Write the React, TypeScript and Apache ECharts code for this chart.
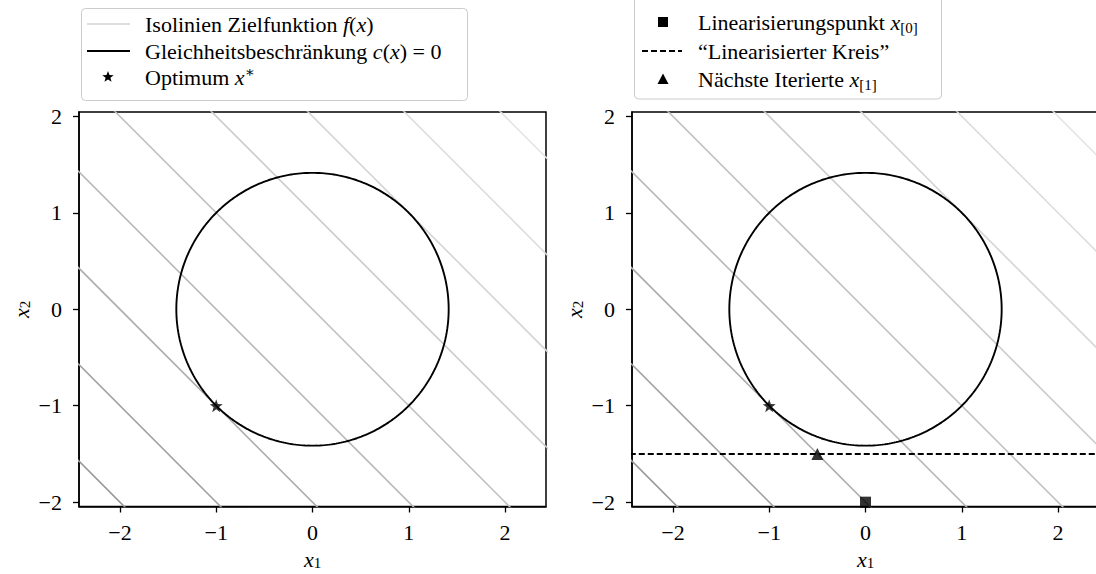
import React, { useEffect, useRef } from "react";
import * as echarts from "echarts";

// ---- data ----
const levels = [-4, -3, -2, -1, 0, 1, 2, 3, 4];
const levelColors = ["#979797", "#a2a2a2", "#adadad", "#b7b7b7", "#c1c1c1", "#cbcbcb", "#d4d4d4", "#dcdcdc", "#e4e4e4"];
const circleCenter = [0, 0];
const circleRadius = Math.SQRT2;
const optimum = [[-1, -1]];
const linearizationPoint = [[0, -2]];
const linearizedCircleX2 = -1.5;
const nextIterate = [[-0.5, -1.5]];
const xTicks = [-2, -1, 0, 1, 2];
const yTicks = [-2, -1, 0, 1, 2];

const FONT = "'Liberation Serif', 'DejaVu Serif', serif";
const FS = 22;
const STAR = "path://M0,-10 L2.35,-3.24 L9.51,-3.09 L3.8,1.24 L5.88,8.09 L0,4 L-5.88,8.09 L-3.8,1.24 L-9.51,-3.09 L-2.35,-3.24 Z";

const fmt = (v: number) => (v < 0 ? "\u2212" + -v : "" + v);

const rich = {
  t: { fontFamily: FONT, fontSize: FS, lineHeight: 26, color: "#000", fill: "#000" },
  i: { fontFamily: FONT, fontSize: FS, lineHeight: 26, fontStyle: "italic", color: "#000", fill: "#000" },
  s: { fontFamily: FONT, fontSize: 15, lineHeight: 14, verticalAlign: "bottom", color: "#000", fill: "#000" },
  u: { fontFamily: FONT, fontSize: 15, lineHeight: 14, verticalAlign: "top", color: "#000", fill: "#000" },
};

const nameRich = {
  i: { fontFamily: FONT, fontSize: FS, lineHeight: 22, fontStyle: "italic", color: "#000" },
  s: { fontFamily: FONT, fontSize: 15, lineHeight: 12, verticalAlign: "bottom", color: "#000" },
};

function circlePoints() {
  const pts: number[][] = [];
  for (let k = 0; k <= 360; k++) {
    const a = (k / 360) * Math.PI * 2;
    pts.push([circleCenter[0] + circleRadius * Math.cos(a), circleCenter[1] + circleRadius * Math.sin(a)]);
  }
  return pts;
}

function starPoints(cx: number, cy: number, R: number) {
  const pts: number[][] = [];
  for (let k = 0; k < 10; k++) {
    const r = k % 2 === 0 ? R : R * 0.42;
    const a = -Math.PI / 2 + (k * Math.PI) / 5;
    pts.push([cx + r * Math.cos(a), cy + r * Math.sin(a)]);
  }
  return pts;
}

export default function App() {
  const ref = useRef<HTMLDivElement>(null);
  useEffect(() => {
    const chart = echarts.init(ref.current!, undefined, { renderer: "svg" });
    const grids = [
      { left: 79, top: 112, width: 467, height: 394.5 },
      { left: 632, top: 112, width: 467, height: 394.5 },
    ].map((g) => ({
      ...g,
      show: true,
      borderColor: "#000",
      borderWidth: 1.5,
      backgroundColor: "transparent",
      containLabel: false,
      outerBoundsMode: "none",
    }));

    const xAxes = [0, 1].map((gi) => ({
      type: "value",
      gridIndex: gi,
      min: -2.425,
      max: 2.425,
      axisLine: { show: true, onZero: false, lineStyle: { color: "#000", width: 1.5 } },
      axisTick: { show: true, customValues: xTicks, length: 6, lineStyle: { color: "#000", width: 1.3 } },
      axisLabel: { customValues: xTicks, formatter: fmt, fontFamily: FONT, fontSize: FS, color: "#000", margin: 15 },
      splitLine: { show: false },
      name: "{i|x}{s|1}",
      nameLocation: "middle",
      nameGap: 40,
      nameTextStyle: { rich: nameRich },
    }));
    const yAxes = [0, 1].map((gi) => ({
      type: "value",
      gridIndex: gi,
      min: -2.045,
      max: 2.045,
      axisLine: { show: true, onZero: false, lineStyle: { color: "#000", width: 1.5 } },
      axisTick: { show: true, customValues: yTicks, length: 6, lineStyle: { color: "#000", width: 1.3 } },
      axisLabel: { customValues: yTicks, formatter: fmt, fontFamily: FONT, fontSize: FS, color: "#000", margin: 17 },
      splitLine: { show: false },
      name: "{i|x}{s|2}",
      nameLocation: "middle",
      nameGap: 47,
      nameTextStyle: { rich: nameRich },
    }));

    const series: any[] = [];
    [0, 1].forEach((gi) => {
      levels.forEach((c, k) => {
        series.push({
          type: "line",
          xAxisIndex: gi,
          yAxisIndex: gi,
          data: [[-6, c + 6], [6, c - 6]],
          symbol: "none",
          clip: true,
          lineStyle: { color: levelColors[k], width: 1.6 },
          z: 1,
        });
      });
      series.push({
        type: "line",
        xAxisIndex: gi,
        yAxisIndex: gi,
        data: circlePoints(),
        symbol: "none",
        clip: true,
        lineStyle: { color: "#000", width: 1.9 },
        z: 3,
      });
      if (gi === 1) {
        series.push({
          type: "line",
          xAxisIndex: gi,
          yAxisIndex: gi,
          data: [[-6, linearizedCircleX2], [6, linearizedCircleX2]],
          symbol: "none",
          clip: true,
          lineStyle: { color: "#000", width: 1.9, type: [6, 3] },
          z: 4,
        });
        series.push({
          type: "scatter",
          xAxisIndex: gi,
          yAxisIndex: gi,
          data: linearizationPoint,
          symbol: "rect",
          symbolSize: 11,
          itemStyle: { color: "#000" },
          clip: false,
          z: 5,
        });
        series.push({
          type: "scatter",
          xAxisIndex: gi,
          yAxisIndex: gi,
          data: nextIterate,
          symbol: "triangle",
          symbolSize: 12,
          itemStyle: { color: "#000" },
          z: 5,
        });
      }
      series.push({
        type: "scatter",
        xAxisIndex: gi,
        yAxisIndex: gi,
        data: optimum,
        symbol: STAR,
        symbolSize: 13,
        itemStyle: { color: "#000" },
        z: 5,
      });
    });

    const txt = (x: number, y: number, text: string) => ({
      type: "text",
      x,
      y,
      style: { text, rich, verticalAlign: "middle", align: "left", fill: "#000" },
      z: 101,
    });

    const graphic: any[] = [
      // left legend
      {
        type: "rect",
        shape: { x: 81.5, y: 8.5, width: 386, height: 92, r: 4 },
        style: { fill: "rgba(255,255,255,0.85)", stroke: "#cccccc", lineWidth: 1 },
        z: 100,
      },
      { type: "line", shape: { x1: 87, y1: 24, x2: 130, y2: 24 }, style: { stroke: "#d3d3d3", lineWidth: 1.6 }, z: 101 },
      txt(145, 24, "{t|Isolinien Zielfunktion }{i|f}{t|(}{i|x}{t|)}"),
      { type: "line", shape: { x1: 87, y1: 51, x2: 130, y2: 51 }, style: { stroke: "#000", lineWidth: 1.9 }, z: 101 },
      txt(145, 51, "{t|Gleichheitsbeschränkung }{i|c}{t|(}{i|x}{t|) = 0}"),
      { type: "polygon", shape: { points: starPoints(108, 77, 6) }, style: { fill: "#000" }, z: 101 },
      txt(145, 77, "{t|Optimum }{i|x}{u|\u2217}"),
      // right legend
      {
        type: "rect",
        shape: { x: 634.5, y: -6, width: 307, height: 105, r: 4 },
        style: { fill: "rgba(255,255,255,0.85)", stroke: "#cccccc", lineWidth: 1 },
        z: 100,
      },
      { type: "rect", shape: { x: 658, y: 17, width: 10, height: 10 }, style: { fill: "#000" }, z: 101 },
      txt(698, 22, "{t|Linearisierungspunkt }{i|x}{s|[0]}"),
      { type: "line", shape: { x1: 642, y1: 51, x2: 682, y2: 51 }, style: { stroke: "#000", lineWidth: 1.9, lineDash: [6, 3] }, z: 101 },
      txt(698, 51, "{t|\u201CLinearisierter Kreis\u201D}"),
      { type: "polygon", shape: { points: [[663, 73.5], [668.5, 84], [657.5, 84]] }, style: { fill: "#000" }, z: 101 },
      txt(698, 79, "{t|Nächste Iterierte }{i|x}{s|[1]}"),
    ];

    chart.setOption({
      animation: false,
      backgroundColor: "#fff",
      grid: grids,
      xAxis: xAxes,
      yAxis: yAxes,
      series,
      graphic,
    });
    return () => chart.dispose();
  }, []);
  return <div ref={ref} style={{ position: "fixed", left: 0, top: 0, width: 1096, height: 574 }} />;
}
